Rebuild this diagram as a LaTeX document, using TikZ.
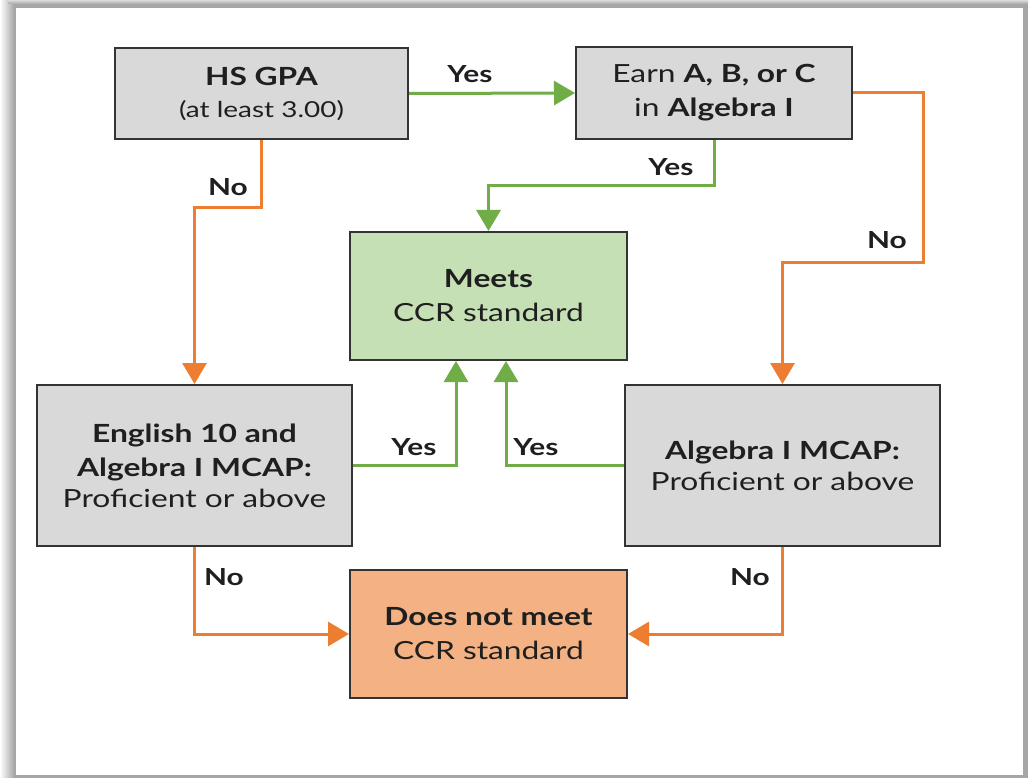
\documentclass[tikz,border=0pt]{standalone}
\usepackage{fontspec}
\setmainfont[FakeStretch=1.27]{Lato}
\usetikzlibrary{arrows.meta}
\definecolor{boxgray}{HTML}{D9D9D9}
\definecolor{boxgreen}{HTML}{C5E0B4}
\definecolor{boxorange}{HTML}{F4B183}
\definecolor{lngreen}{HTML}{70AD47}
\definecolor{lnorange}{HTML}{ED7D31}
\definecolor{txt}{HTML}{1F1F1F}
\definecolor{framegray}{HTML}{A6A6A6}
\tikzset{
  box/.style={draw=black!80, line width=2pt, align=center, inner sep=0pt, text=txt,
    font=\fontsize{25}{34}\selectfont},
  yesline/.style={draw=lngreen, line width=3pt, -{Triangle[length=21pt,width=24pt]}},
  noline/.style={draw=lnorange, line width=3pt, -{Triangle[length=21pt,width=24pt]}},
  lbl/.style={font=\fontsize{23.5}{26}\bfseries\selectfont, text=txt, inner sep=0pt}
}
\begin{document}
\begin{tikzpicture}[x=1pt,y=-1pt]
\useasboundingbox (0,0) rectangle (1033,778);
% frame
\fill[framegray] (8,0) rectangle (1028,778);
\shade[left color=white, right color=framegray] (0,0) rectangle (14,778);
\shade[top color=white!60!framegray, bottom color=framegray] (8,0) rectangle (1028,4);
\fill[white] (16,8) rectangle (1023,775);
% boxes
\node[box, fill=boxgray, minimum width=293pt, minimum height=91pt] (gpa) at (261.5,93.5)
  {\textbf{HS GPA}\\[-2pt]{\fontsize{22}{28}\selectfont (at least 3.00)}};
\node[box, fill=boxgray, minimum width=276pt, minimum height=92pt] (earn) at (714,93)
  {Earn \textbf{A, B, or C}\\in \textbf{Algebra I}};
\node[box, fill=boxgreen, minimum width=277pt, minimum height=128pt] (meets) at (488.5,296)
  {\textbf{Meets}\\CCR standard};
\node[box, fill=boxgray, minimum width=315pt, minimum height=161pt] (eng) at (194.5,465.5)
  {\textbf{English 10 and}\\\textbf{Algebra I MCAP:}\\[-3pt]Proficient or above};
\node[box, fill=boxgray, minimum width=315pt, minimum height=161pt] (alg) at (782.5,465.5)
  {\textbf{Algebra I MCAP:}\\[-3pt]Proficient or above};
\node[box, fill=boxorange, minimum width=277pt, minimum height=128pt] (dnm) at (488.5,634)
  {\textbf{Does not meet}\\CCR standard};
% helper coordinates
\coordinate (r1) at (923,262);
% connectors
\draw[yesline] (gpa.east) -- (earn.west);
\draw[noline] (gpa.south) -- ++(0,68) -| (eng.north);
\draw[yesline] (earn.south) -- ++(0,46) -| (meets.north);
\draw[noline] (earn.east) -| (r1) -| (alg.north);
\draw[yesline] (eng.east) -| ([xshift=-32.5pt]meets.south);
\draw[yesline] (alg.west) -| ([xshift=17.5pt]meets.south);
\draw[noline] (eng.south) |- (dnm.west);
\draw[noline] (alg.south) |- (dnm.east);
% labels
\node[lbl] (l1) at (470,74) {Yes};
\node[lbl] (l2) at (228,187) {No};
\node[lbl] (l3) at (671,167) {Yes};
\node[lbl] (l4) at (887,240) {No};
\node[lbl] (l5) at (414,447) {Yes};
\node[lbl] (l6) at (536,447) {Yes};
\node[lbl] (l7) at (224,577) {No};
\node[lbl] (l8) at (750,577) {No};
\end{tikzpicture}
\end{document}
